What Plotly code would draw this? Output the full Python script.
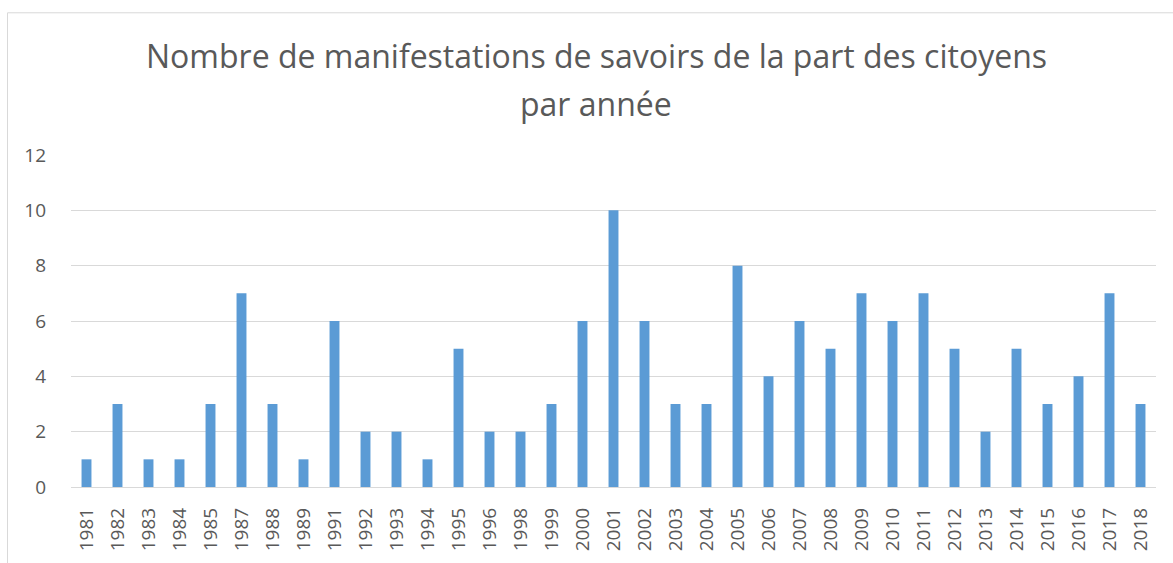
import plotly.graph_objects as go

years = ["1981", "1982", "1983", "1984", "1985", "1987", "1988", "1989", "1991", "1992",
         "1993", "1994", "1995", "1996", "1998", "1999", "2000", "2001", "2002", "2003",
         "2004", "2005", "2006", "2007", "2008", "2009", "2010", "2011", "2012", "2013",
         "2014", "2015", "2016", "2017", "2018"]
counts = [1, 3, 1, 1, 3, 7, 3, 1, 6, 2,
          2, 1, 5, 2, 2, 3, 6, 10, 6, 3,
          3, 8, 4, 6, 5, 7, 6, 7, 5, 2,
          5, 3, 4, 7, 3]
title_lines = ["Nombre de manifestations de savoirs de la part des citoyens", "par année"]
y_ticks = [0, 2, 4, 6, 8, 10, 12]

FONT = "Open Sans"
GREY = "#595959"

fig = go.Figure(go.Bar(x=years, y=counts, marker=dict(color="#5B9BD5", line=dict(width=0))))

L, R, T, B = 71, 17, 155, 73
W, H = 1173, 563
pw, ph = W - L - R, H - T - B

fig.update_layout(
    width=W, height=H,
    margin=dict(l=L, r=R, t=T, b=B, pad=0),
    plot_bgcolor="white", paper_bgcolor="white",
    bargap=0.68,
    showlegend=False,
    font=dict(family=FONT, color=GREY),
    xaxis=dict(type="category", tickangle=-90, tickfont=dict(size=19, color=GREY),
               showgrid=False, showline=False, ticks="", ticklabelstandoff=16),
    yaxis=dict(range=[0, 12], tickvals=y_ticks, tickfont=dict(size=19, color=GREY),
               showgrid=True, gridcolor="#d9d9d9", gridwidth=1, zeroline=True,
               zerolinecolor="#d9d9d9", zerolinewidth=1, showline=False, ticks="",
               ticklabelstandoff=24),
)

cx = (596 - L) / pw
fig.add_annotation(text=title_lines[0], xref="paper", yref="paper",
                   x=cx, y=(H - B - 55) / ph, showarrow=False,
                   font=dict(size=32, color=GREY, family=FONT), xanchor="center", yanchor="middle")
fig.add_annotation(text=title_lines[1], xref="paper", yref="paper",
                   x=cx, y=(H - B - 103) / ph, showarrow=False,
                   font=dict(size=32, color=GREY, family=FONT), xanchor="center", yanchor="middle")

fig.add_shape(type="rect", xref="paper", yref="paper",
              x0=(7.5 - L) / pw, x1=(W + 20 - L) / pw,
              y0=(H - B - (H + 20)) / ph, y1=(H - B - 11.5) / ph,
              line=dict(color="#d9d9d9", width=1), fillcolor="rgba(0,0,0,0)", layer="below")

fig.write_html("out.html", config={"displayModeBar": False},
               post_script="document.body.style.margin='0';")
